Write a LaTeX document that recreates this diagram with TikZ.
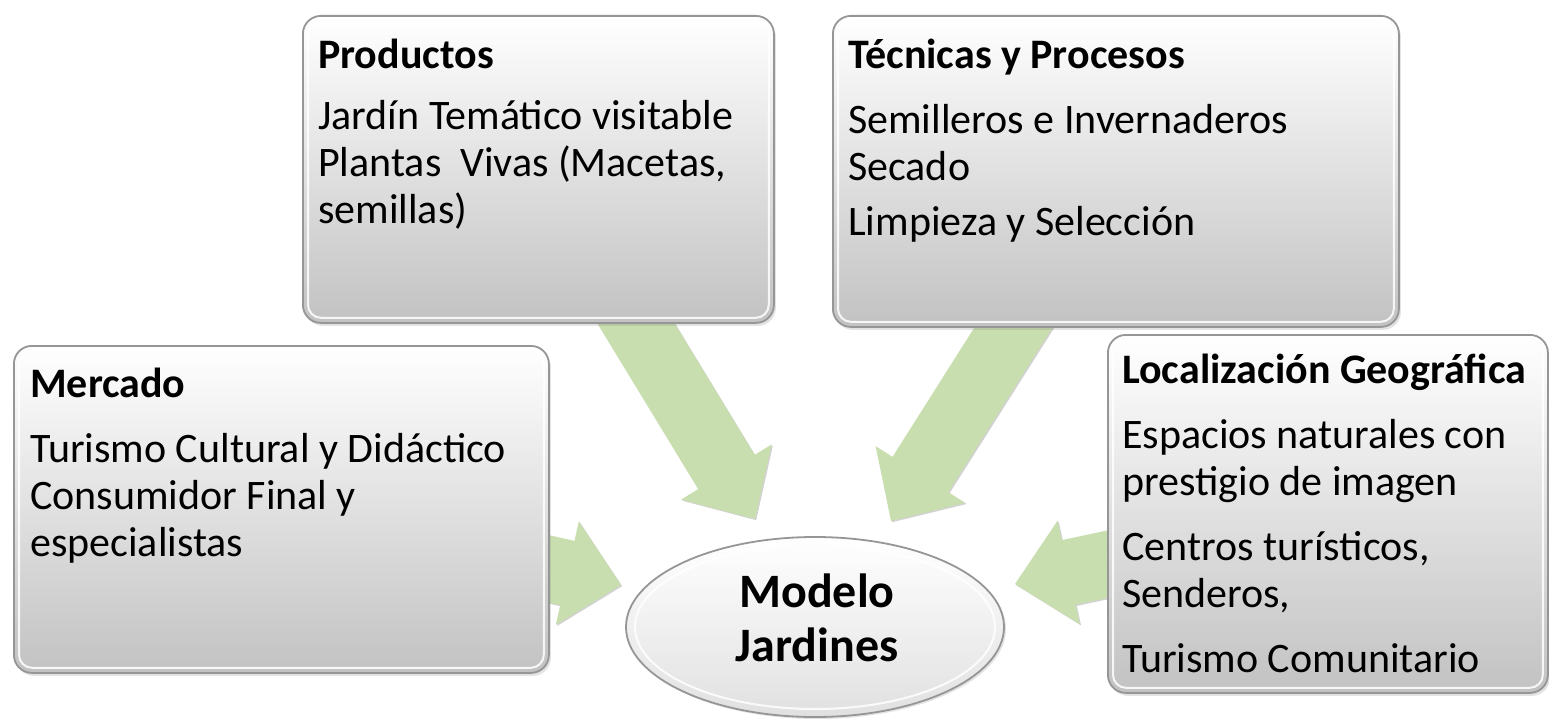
\documentclass[tikz,border=0pt]{standalone}
\usepackage{fontspec}
\setmainfont{Carlito}
\usetikzlibrary{calc,shapes.geometric,shadows}
\definecolor{arrowgreen}{RGB}{201,222,175}
\definecolor{boxline}{RGB}{150,150,150}
\definecolor{boxbottom}{RGB}{194,194,194}
\newcommand\blockarrow[2]{%
  \coordinate (#2-base) at ($(#2)!55pt!(#1)$);
  \fill[arrowshape] ($(#1)!33pt!90:(#2)$) -- ($(#2-base)!33pt!90:(#2)$) -- ($(#2-base)!53pt!90:(#2)$) -- (#2)
    -- ($(#2-base)!53pt!-90:(#2)$) -- ($(#2-base)!33pt!-90:(#2)$) -- ($(#1)!33pt!-90:(#2)$) -- cycle;}
\newcommand\bevel[1]{%
  \draw[bevelline] ($(#1.north west)+(6,6)$) rectangle ($(#1.south east)+(-6,-6)$);}
\tikzset{
  arrowshape/.style={fill=arrowgreen, drop shadow={shadow xshift=1.2pt, shadow yshift=-1.2pt, opacity=0.35, fill=gray}},
  boxnode/.style={rectangle, rounded corners=18pt, draw=boxline, line width=1.8pt, top color=white, bottom color=boxbottom,
    anchor=north west, inner sep=0pt, drop shadow={shadow xshift=2pt, shadow yshift=-3pt, opacity=0.22}},
  bevelline/.style={draw=white, line width=2pt, rounded corners=13pt, opacity=0.85},
  ellnode/.style={ellipse, draw=boxline, line width=1.8pt, top color=white, bottom color=gray!24, inner sep=0pt,
    drop shadow={shadow xshift=2pt, shadow yshift=-2pt, opacity=0.22}},
  txt/.style={anchor=north west, inner sep=0pt, align=left, font=\fontsize{42}{47}\selectfont},
  centertxt/.style={anchor=north, inner sep=0pt, align=center, font=\bfseries\fontsize{48}{54}\selectfont},
}
\begin{document}
\begin{tikzpicture}[x=1pt, y=-1pt]
\useasboundingbox (0,0) rectangle (1549,719);
\fill[white] (0,0) rectangle (1549,719);

% arrow end points
\coordinate (prodA) at (612,284);  \coordinate (prodT) at (755,519);
\coordinate (tecA)  at (1034,295); \coordinate (tecT)  at (891,521);
\coordinate (mercA) at (486,555);  \coordinate (mercT) at (621,585);
\coordinate (locA)  at (1150,555); \coordinate (locT)  at (1015,584);

\blockarrow{prodA}{prodT}
\blockarrow{tecA}{tecT}
\blockarrow{mercA}{mercT}
\blockarrow{locA}{locT}

% boxes
\node[boxnode, minimum width=471, minimum height=307] (prod) at (302,15) {};
\bevel{prod}
\node[boxnode, minimum width=566, minimum height=311] (tec) at (832,15) {};
\bevel{tec}
\node[boxnode, minimum width=535, minimum height=327] (merc) at (13,345) {};
\bevel{merc}
\node[boxnode, minimum width=440, minimum height=358] (loc) at (1107,334) {};
\bevel{loc}

% central ellipse
\node[ellnode, minimum width=378, minimum height=180] (model) at (815,627) {};
\draw[bevelline, rounded corners=0pt] (model.center) ellipse [x radius=180, y radius=82];

% texts
\node[txt] (prodt) at (318,28) {\rule{0pt}{40pt}\textbf{Productos}\\[14pt]
  Jardín Temático visitable\\ Plantas\ \ Vivas (Macetas,\\ semillas)};
\node[txt] (tect) at (848,28) {\rule{0pt}{40pt}\textbf{Técnicas y Procesos}\\[18pt]
  Semilleros e Invernaderos\\ Secado\\[8pt] Limpieza y Selección};
\node[txt] (merct) at (30,357) {\rule{0pt}{40pt}\textbf{Mercado}\\[18pt]
  Turismo Cultural y Didáctico\\ Consumidor Final y\\ especialistas};
\node[txt] (loct) at (1122,343) {\rule{0pt}{40pt}\textbf{Localización Geográfica}\\[18pt]
  Espacios naturales con\\ prestigio de imagen\\[18pt] Centros turísticos,\\ Senderos,\\[18pt] Turismo Comunitario};
\node[centertxt] (modelt) at (817,569) {\rule{0pt}{38pt}Modelo\\Jardines};
\end{tikzpicture}
\end{document}
